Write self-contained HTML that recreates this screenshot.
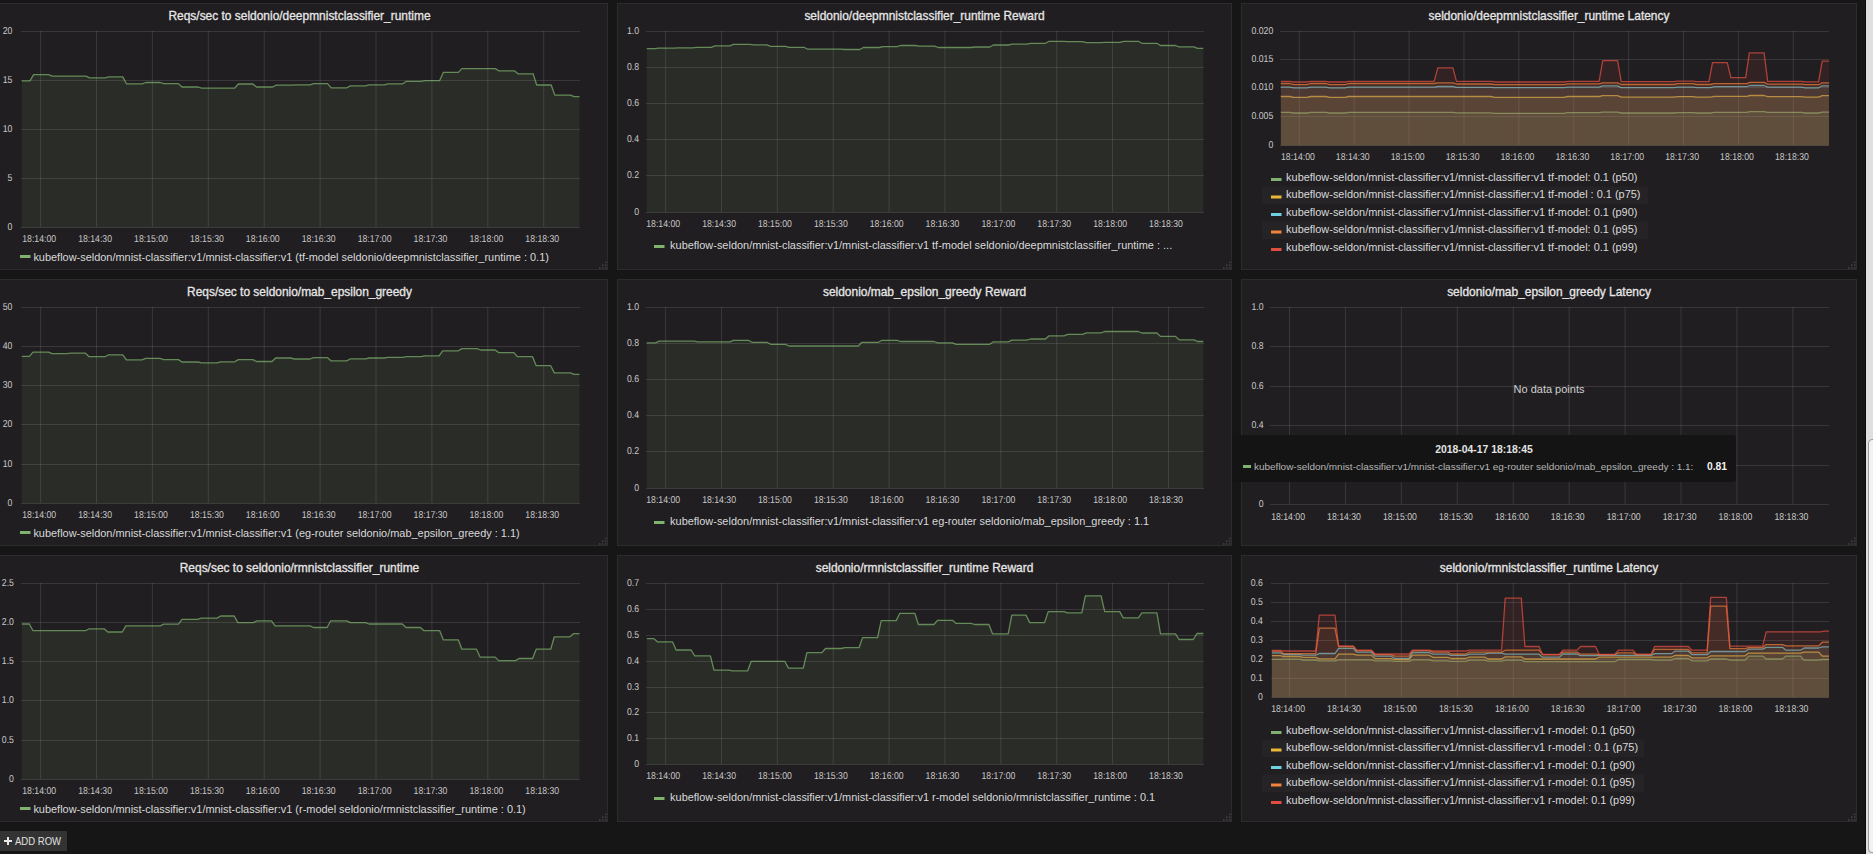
<!DOCTYPE html>
<html><head><meta charset="utf-8"><style>
html,body{margin:0;padding:0;}
body{width:1873px;height:854px;background:#161616;overflow:hidden;position:relative;font-family:"Liberation Sans", sans-serif;}
.pn{position:absolute;box-sizing:border-box;background:#201e20;border:1px solid #2c2c2c;}
.tt{position:absolute;text-align:center;font-size:11.95px;font-weight:normal;color:#e6e6e6;-webkit-text-stroke:0.3px #e6e6e6;line-height:14px;white-space:nowrap;}
.lg{position:absolute;font-size:10.95px;color:#d8d9da;line-height:12px;white-space:nowrap;}
svg{position:absolute;left:0;top:0;text-rendering:geometricPrecision;}
.ax{font-family:"Liberation Sans", sans-serif;font-size:10px;fill:#c9c9ca;}
.tip{position:absolute;left:1232px;top:435px;width:504px;height:47px;background:#141414;border-radius:3px;color:#d8d9da;white-space:nowrap;}
.tip .tm{position:absolute;left:0;width:504px;top:8px;text-align:center;font-weight:bold;font-size:10.4px;line-height:14px;color:#e4e4e4;}
.tip .sn{position:absolute;left:22px;top:25.8px;font-size:9.98px;line-height:12px;color:#b4b4b4;}
.tip .sw{position:absolute;left:11px;top:29.6px;width:8px;height:3px;background:#7EB26D;}
.tip .vl{position:absolute;left:475px;top:26.4px;font-weight:bold;font-size:10.3px;line-height:12px;color:#f0f0f0;}
.nd{position:absolute;left:1449px;top:383px;width:200px;text-align:center;font-size:11px;line-height:12px;color:#d0d0d0;}
.addrow{position:absolute;left:-5px;top:831px;width:72px;height:20px;background:#333333;color:#e0e0e0;font-size:10.4px;line-height:20px;}
.sb{position:absolute;left:1865px;top:0;width:8px;height:854px;background:#dfdfdf;border-left:1px solid #0b0b0b;box-sizing:border-box;}
.th{position:absolute;left:1868px;top:439px;width:12px;height:414px;background:#f2f2f2;border:1px solid #9a9a9a;border-radius:4px;box-sizing:border-box;}
</style></head><body>
<div class="pn" style="left:-9px;top:3px;width:617px;height:267px"></div><div class="tt" style="left:-9px;top:9px;width:617px">Reqs/sec to seldonio/deepmnistclassifier_runtime</div><div class="pn" style="left:617px;top:3px;width:615px;height:267px"></div><div class="tt" style="left:617px;top:9px;width:615px">seldonio/deepmnistclassifier_runtime Reward</div><div class="pn" style="left:1241px;top:3px;width:616px;height:267px"></div><div class="tt" style="left:1241px;top:9px;width:616px">seldonio/deepmnistclassifier_runtime Latency</div><div class="pn" style="left:-9px;top:279px;width:617px;height:267px"></div><div class="tt" style="left:-9px;top:285px;width:617px">Reqs/sec to seldonio/mab_epsilon_greedy</div><div class="pn" style="left:617px;top:279px;width:615px;height:267px"></div><div class="tt" style="left:617px;top:285px;width:615px">seldonio/mab_epsilon_greedy Reward</div><div class="pn" style="left:1241px;top:279px;width:616px;height:267px"></div><div class="tt" style="left:1241px;top:285px;width:616px">seldonio/mab_epsilon_greedy Latency</div><div class="pn" style="left:-9px;top:555px;width:617px;height:267px"></div><div class="tt" style="left:-9px;top:561px;width:617px">Reqs/sec to seldonio/rmnistclassifier_runtime</div><div class="pn" style="left:617px;top:555px;width:615px;height:267px"></div><div class="tt" style="left:617px;top:561px;width:615px">seldonio/rmnistclassifier_runtime Reward</div><div class="pn" style="left:1241px;top:555px;width:616px;height:267px"></div><div class="tt" style="left:1241px;top:561px;width:616px">seldonio/rmnistclassifier_runtime Latency</div><div class="lg" style="left:33.4px;top:250.60px">kubeflow-seldon/mnist-classifier:v1/mnist-classifier:v1 (tf-model seldonio/deepmnistclassifier_runtime : 0.1)</div><div class="lg" style="left:670.1px;top:238.50px">kubeflow-seldon/mnist-classifier:v1/mnist-classifier:v1 tf-model seldonio/deepmnistclassifier_runtime : ...</div><div class="lg" style="left:33.4px;top:526.60px">kubeflow-seldon/mnist-classifier:v1/mnist-classifier:v1 (eg-router seldonio/mab_epsilon_greedy : 1.1)</div><div class="lg" style="left:670.1px;top:514.50px">kubeflow-seldon/mnist-classifier:v1/mnist-classifier:v1 eg-router seldonio/mab_epsilon_greedy : 1.1</div><div class="lg" style="left:33.4px;top:802.60px">kubeflow-seldon/mnist-classifier:v1/mnist-classifier:v1 (r-model seldonio/rmnistclassifier_runtime : 0.1)</div><div class="lg" style="left:670.1px;top:790.50px">kubeflow-seldon/mnist-classifier:v1/mnist-classifier:v1 r-model seldonio/rmnistclassifier_runtime : 0.1</div><div class="lg" style="left:1286.1px;top:170.70px">kubeflow-seldon/mnist-classifier:v1/mnist-classifier:v1 tf-model: 0.1 (p50)</div><div class="lg" style="left:1286.1px;top:188.20px">kubeflow-seldon/mnist-classifier:v1/mnist-classifier:v1 tf-model : 0.1 (p75)</div><div class="lg" style="left:1286.1px;top:205.70px">kubeflow-seldon/mnist-classifier:v1/mnist-classifier:v1 tf-model: 0.1 (p90)</div><div class="lg" style="left:1286.1px;top:223.20px">kubeflow-seldon/mnist-classifier:v1/mnist-classifier:v1 tf-model: 0.1 (p95)</div><div class="lg" style="left:1286.1px;top:240.70px">kubeflow-seldon/mnist-classifier:v1/mnist-classifier:v1 tf-model: 0.1 (p99)</div><div class="lg" style="left:1286.1px;top:723.70px">kubeflow-seldon/mnist-classifier:v1/mnist-classifier:v1 r-model: 0.1 (p50)</div><div class="lg" style="left:1286.1px;top:741.20px">kubeflow-seldon/mnist-classifier:v1/mnist-classifier:v1 r-model : 0.1 (p75)</div><div class="lg" style="left:1286.1px;top:758.70px">kubeflow-seldon/mnist-classifier:v1/mnist-classifier:v1 r-model: 0.1 (p90)</div><div class="lg" style="left:1286.1px;top:776.20px">kubeflow-seldon/mnist-classifier:v1/mnist-classifier:v1 r-model: 0.1 (p95)</div><div class="lg" style="left:1286.1px;top:793.70px">kubeflow-seldon/mnist-classifier:v1/mnist-classifier:v1 r-model: 0.1 (p99)</div>
<svg width="1873" height="854" viewBox="0 0 1873 854">
<rect x="605.0" y="267.2" width="1.5" height="1.5" fill="#454545"/><rect x="602.0" y="267.2" width="1.5" height="1.5" fill="#454545"/><rect x="599.0" y="267.2" width="1.5" height="1.5" fill="#454545"/><rect x="605.0" y="264.4" width="1.5" height="1.5" fill="#454545"/><rect x="602.0" y="264.4" width="1.5" height="1.5" fill="#454545"/><rect x="605.0" y="261.6" width="1.5" height="1.5" fill="#454545"/><rect x="1229.0" y="267.2" width="1.5" height="1.5" fill="#454545"/><rect x="1226.0" y="267.2" width="1.5" height="1.5" fill="#454545"/><rect x="1223.0" y="267.2" width="1.5" height="1.5" fill="#454545"/><rect x="1229.0" y="264.4" width="1.5" height="1.5" fill="#454545"/><rect x="1226.0" y="264.4" width="1.5" height="1.5" fill="#454545"/><rect x="1229.0" y="261.6" width="1.5" height="1.5" fill="#454545"/><rect x="1854.0" y="267.2" width="1.5" height="1.5" fill="#454545"/><rect x="1851.0" y="267.2" width="1.5" height="1.5" fill="#454545"/><rect x="1848.0" y="267.2" width="1.5" height="1.5" fill="#454545"/><rect x="1854.0" y="264.4" width="1.5" height="1.5" fill="#454545"/><rect x="1851.0" y="264.4" width="1.5" height="1.5" fill="#454545"/><rect x="1854.0" y="261.6" width="1.5" height="1.5" fill="#454545"/><rect x="605.0" y="543.2" width="1.5" height="1.5" fill="#454545"/><rect x="602.0" y="543.2" width="1.5" height="1.5" fill="#454545"/><rect x="599.0" y="543.2" width="1.5" height="1.5" fill="#454545"/><rect x="605.0" y="540.4" width="1.5" height="1.5" fill="#454545"/><rect x="602.0" y="540.4" width="1.5" height="1.5" fill="#454545"/><rect x="605.0" y="537.6" width="1.5" height="1.5" fill="#454545"/><rect x="1229.0" y="543.2" width="1.5" height="1.5" fill="#454545"/><rect x="1226.0" y="543.2" width="1.5" height="1.5" fill="#454545"/><rect x="1223.0" y="543.2" width="1.5" height="1.5" fill="#454545"/><rect x="1229.0" y="540.4" width="1.5" height="1.5" fill="#454545"/><rect x="1226.0" y="540.4" width="1.5" height="1.5" fill="#454545"/><rect x="1229.0" y="537.6" width="1.5" height="1.5" fill="#454545"/><rect x="1854.0" y="543.2" width="1.5" height="1.5" fill="#454545"/><rect x="1851.0" y="543.2" width="1.5" height="1.5" fill="#454545"/><rect x="1848.0" y="543.2" width="1.5" height="1.5" fill="#454545"/><rect x="1854.0" y="540.4" width="1.5" height="1.5" fill="#454545"/><rect x="1851.0" y="540.4" width="1.5" height="1.5" fill="#454545"/><rect x="1854.0" y="537.6" width="1.5" height="1.5" fill="#454545"/><rect x="605.0" y="819.2" width="1.5" height="1.5" fill="#454545"/><rect x="602.0" y="819.2" width="1.5" height="1.5" fill="#454545"/><rect x="599.0" y="819.2" width="1.5" height="1.5" fill="#454545"/><rect x="605.0" y="816.4" width="1.5" height="1.5" fill="#454545"/><rect x="602.0" y="816.4" width="1.5" height="1.5" fill="#454545"/><rect x="605.0" y="813.6" width="1.5" height="1.5" fill="#454545"/><rect x="1229.0" y="819.2" width="1.5" height="1.5" fill="#454545"/><rect x="1226.0" y="819.2" width="1.5" height="1.5" fill="#454545"/><rect x="1223.0" y="819.2" width="1.5" height="1.5" fill="#454545"/><rect x="1229.0" y="816.4" width="1.5" height="1.5" fill="#454545"/><rect x="1226.0" y="816.4" width="1.5" height="1.5" fill="#454545"/><rect x="1229.0" y="813.6" width="1.5" height="1.5" fill="#454545"/><rect x="1854.0" y="819.2" width="1.5" height="1.5" fill="#454545"/><rect x="1851.0" y="819.2" width="1.5" height="1.5" fill="#454545"/><rect x="1848.0" y="819.2" width="1.5" height="1.5" fill="#454545"/><rect x="1854.0" y="816.4" width="1.5" height="1.5" fill="#454545"/><rect x="1851.0" y="816.4" width="1.5" height="1.5" fill="#454545"/><rect x="1854.0" y="813.6" width="1.5" height="1.5" fill="#454545"/><rect x="21" y="31" width="559" height="1" fill="#c8c8c8" fill-opacity="0.15"/><rect x="21" y="80" width="559" height="1" fill="#c8c8c8" fill-opacity="0.15"/><rect x="21" y="129" width="559" height="1" fill="#c8c8c8" fill-opacity="0.15"/><rect x="21" y="178" width="559" height="1" fill="#c8c8c8" fill-opacity="0.15"/><rect x="21" y="227" width="559" height="1" fill="#c8c8c8" fill-opacity="0.15"/><rect x="40.10" y="31" width="1" height="196" fill="#c8c8c8" fill-opacity="0.15"/><rect x="96.00" y="31" width="1" height="196" fill="#c8c8c8" fill-opacity="0.15"/><rect x="151.90" y="31" width="1" height="196" fill="#c8c8c8" fill-opacity="0.15"/><rect x="207.80" y="31" width="1" height="196" fill="#c8c8c8" fill-opacity="0.15"/><rect x="263.70" y="31" width="1" height="196" fill="#c8c8c8" fill-opacity="0.15"/><rect x="319.60" y="31" width="1" height="196" fill="#c8c8c8" fill-opacity="0.15"/><rect x="375.50" y="31" width="1" height="196" fill="#c8c8c8" fill-opacity="0.15"/><rect x="431.40" y="31" width="1" height="196" fill="#c8c8c8" fill-opacity="0.15"/><rect x="487.30" y="31" width="1" height="196" fill="#c8c8c8" fill-opacity="0.15"/><rect x="543.20" y="31" width="1" height="196" fill="#c8c8c8" fill-opacity="0.15"/><path d="M21.80,80.90 L30.00,80.90 L33.60,74.70 L48.60,74.70 L52.20,76.10 L86.00,76.10 L89.60,77.90 L105.20,77.90 L108.80,76.90 L122.80,76.90 L126.40,83.80 L142.10,83.80 L145.70,82.50 L160.20,82.50 L163.80,83.60 L178.40,83.60 L182.00,87.00 L198.10,87.00 L201.70,88.10 L234.70,88.10 L238.30,84.00 L252.90,84.00 L256.50,87.00 L272.60,87.00 L276.20,85.10 L291.80,85.10 L295.40,84.80 L310.00,84.80 L313.60,83.60 L327.60,83.60 L331.20,87.80 L346.80,87.80 L350.40,85.90 L365.50,85.90 L369.10,84.90 L384.20,84.90 L387.80,83.80 L402.80,83.80 L406.40,81.30 L421.00,81.30 L424.60,80.60 L439.70,80.60 L443.30,72.40 L458.30,72.40 L461.90,68.60 L495.20,68.60 L498.80,70.80 L514.40,70.80 L518.00,73.80 L533.10,73.80 L536.70,85.00 L551.20,85.00 L554.80,95.10 L570.50,95.10 L574.10,96.70 L579.50,96.70 L579.50,227.50 L21.80,227.50 Z" fill="#7EB26D" fill-opacity="0.1"/><path d="M21.80,80.90 L30.00,80.90 L33.60,74.70 L48.60,74.70 L52.20,76.10 L86.00,76.10 L89.60,77.90 L105.20,77.90 L108.80,76.90 L122.80,76.90 L126.40,83.80 L142.10,83.80 L145.70,82.50 L160.20,82.50 L163.80,83.60 L178.40,83.60 L182.00,87.00 L198.10,87.00 L201.70,88.10 L234.70,88.10 L238.30,84.00 L252.90,84.00 L256.50,87.00 L272.60,87.00 L276.20,85.10 L291.80,85.10 L295.40,84.80 L310.00,84.80 L313.60,83.60 L327.60,83.60 L331.20,87.80 L346.80,87.80 L350.40,85.90 L365.50,85.90 L369.10,84.90 L384.20,84.90 L387.80,83.80 L402.80,83.80 L406.40,81.30 L421.00,81.30 L424.60,80.60 L439.70,80.60 L443.30,72.40 L458.30,72.40 L461.90,68.60 L495.20,68.60 L498.80,70.80 L514.40,70.80 L518.00,73.80 L533.10,73.80 L536.70,85.00 L551.20,85.00 L554.80,95.10 L570.50,95.10 L574.10,96.70 L579.50,96.70" fill="none" stroke="#7EB26D" stroke-width="1.3" stroke-opacity="0.72" stroke-linejoin="round"/><text x="12.30" y="34.20" text-anchor="end" textLength="9.67" lengthAdjust="spacingAndGlyphs" class="ax">20</text><text x="12.30" y="83.20" text-anchor="end" textLength="9.67" lengthAdjust="spacingAndGlyphs" class="ax">15</text><text x="12.30" y="132.20" text-anchor="end" textLength="9.67" lengthAdjust="spacingAndGlyphs" class="ax">10</text><text x="12.30" y="181.20" text-anchor="end" textLength="4.84" lengthAdjust="spacingAndGlyphs" class="ax">5</text><text x="12.30" y="230.20" text-anchor="end" textLength="4.84" lengthAdjust="spacingAndGlyphs" class="ax">0</text><text x="39.20" y="242.00" text-anchor="middle" textLength="33.86" lengthAdjust="spacingAndGlyphs" class="ax">18:14:00</text><text x="95.10" y="242.00" text-anchor="middle" textLength="33.86" lengthAdjust="spacingAndGlyphs" class="ax">18:14:30</text><text x="151.00" y="242.00" text-anchor="middle" textLength="33.86" lengthAdjust="spacingAndGlyphs" class="ax">18:15:00</text><text x="206.90" y="242.00" text-anchor="middle" textLength="33.86" lengthAdjust="spacingAndGlyphs" class="ax">18:15:30</text><text x="262.80" y="242.00" text-anchor="middle" textLength="33.86" lengthAdjust="spacingAndGlyphs" class="ax">18:16:00</text><text x="318.70" y="242.00" text-anchor="middle" textLength="33.86" lengthAdjust="spacingAndGlyphs" class="ax">18:16:30</text><text x="374.60" y="242.00" text-anchor="middle" textLength="33.86" lengthAdjust="spacingAndGlyphs" class="ax">18:17:00</text><text x="430.50" y="242.00" text-anchor="middle" textLength="33.86" lengthAdjust="spacingAndGlyphs" class="ax">18:17:30</text><text x="486.40" y="242.00" text-anchor="middle" textLength="33.86" lengthAdjust="spacingAndGlyphs" class="ax">18:18:00</text><text x="542.30" y="242.00" text-anchor="middle" textLength="33.86" lengthAdjust="spacingAndGlyphs" class="ax">18:18:30</text><rect x="646" y="31" width="558" height="1" fill="#c8c8c8" fill-opacity="0.15"/><rect x="646" y="67" width="558" height="1" fill="#c8c8c8" fill-opacity="0.15"/><rect x="646" y="103" width="558" height="1" fill="#c8c8c8" fill-opacity="0.15"/><rect x="646" y="139" width="558" height="1" fill="#c8c8c8" fill-opacity="0.15"/><rect x="646" y="175" width="558" height="1" fill="#c8c8c8" fill-opacity="0.15"/><rect x="646" y="212" width="558" height="1" fill="#c8c8c8" fill-opacity="0.15"/><rect x="665.10" y="31" width="1" height="181" fill="#c8c8c8" fill-opacity="0.15"/><rect x="720.97" y="31" width="1" height="181" fill="#c8c8c8" fill-opacity="0.15"/><rect x="776.84" y="31" width="1" height="181" fill="#c8c8c8" fill-opacity="0.15"/><rect x="832.71" y="31" width="1" height="181" fill="#c8c8c8" fill-opacity="0.15"/><rect x="888.58" y="31" width="1" height="181" fill="#c8c8c8" fill-opacity="0.15"/><rect x="944.45" y="31" width="1" height="181" fill="#c8c8c8" fill-opacity="0.15"/><rect x="1000.32" y="31" width="1" height="181" fill="#c8c8c8" fill-opacity="0.15"/><rect x="1056.19" y="31" width="1" height="181" fill="#c8c8c8" fill-opacity="0.15"/><rect x="1112.06" y="31" width="1" height="181" fill="#c8c8c8" fill-opacity="0.15"/><rect x="1167.93" y="31" width="1" height="181" fill="#c8c8c8" fill-opacity="0.15"/><path d="M646.80,48.60 L655.00,48.60 L658.60,48.20 L674.00,48.20 L677.60,47.80 L692.60,47.80 L696.20,47.30 L711.20,47.30 L714.80,45.80 L729.80,45.80 L733.40,44.40 L750.00,44.40 L753.60,44.90 L767.00,44.90 L770.60,46.30 L785.50,46.30 L789.10,47.30 L804.10,47.30 L807.70,49.20 L841.00,49.20 L844.60,49.50 L859.80,49.50 L863.40,47.50 L879.20,47.50 L882.80,46.70 L897.00,46.70 L900.60,45.50 L915.60,45.50 L919.20,46.10 L934.70,46.10 L938.30,47.50 L971.00,47.50 L974.60,47.00 L989.70,47.00 L993.30,45.00 L1008.20,45.00 L1011.80,44.20 L1026.80,44.20 L1030.40,43.30 L1045.40,43.30 L1049.00,41.30 L1064.00,41.30 L1067.60,41.60 L1082.60,41.60 L1086.20,42.70 L1101.00,42.70 L1104.60,42.30 L1120.00,42.30 L1123.60,41.30 L1138.30,41.30 L1141.90,43.30 L1156.90,43.30 L1160.50,45.50 L1175.50,45.50 L1179.10,46.90 L1194.00,46.90 L1197.60,48.40 L1203.30,48.40 L1203.30,212.50 L646.80,212.50 Z" fill="#7EB26D" fill-opacity="0.1"/><path d="M646.80,48.60 L655.00,48.60 L658.60,48.20 L674.00,48.20 L677.60,47.80 L692.60,47.80 L696.20,47.30 L711.20,47.30 L714.80,45.80 L729.80,45.80 L733.40,44.40 L750.00,44.40 L753.60,44.90 L767.00,44.90 L770.60,46.30 L785.50,46.30 L789.10,47.30 L804.10,47.30 L807.70,49.20 L841.00,49.20 L844.60,49.50 L859.80,49.50 L863.40,47.50 L879.20,47.50 L882.80,46.70 L897.00,46.70 L900.60,45.50 L915.60,45.50 L919.20,46.10 L934.70,46.10 L938.30,47.50 L971.00,47.50 L974.60,47.00 L989.70,47.00 L993.30,45.00 L1008.20,45.00 L1011.80,44.20 L1026.80,44.20 L1030.40,43.30 L1045.40,43.30 L1049.00,41.30 L1064.00,41.30 L1067.60,41.60 L1082.60,41.60 L1086.20,42.70 L1101.00,42.70 L1104.60,42.30 L1120.00,42.30 L1123.60,41.30 L1138.30,41.30 L1141.90,43.30 L1156.90,43.30 L1160.50,45.50 L1175.50,45.50 L1179.10,46.90 L1194.00,46.90 L1197.60,48.40 L1203.30,48.40" fill="none" stroke="#7EB26D" stroke-width="1.3" stroke-opacity="0.72" stroke-linejoin="round"/><text x="639.00" y="34.20" text-anchor="end" textLength="12.09" lengthAdjust="spacingAndGlyphs" class="ax">1.0</text><text x="639.00" y="70.20" text-anchor="end" textLength="12.09" lengthAdjust="spacingAndGlyphs" class="ax">0.8</text><text x="639.00" y="106.20" text-anchor="end" textLength="12.09" lengthAdjust="spacingAndGlyphs" class="ax">0.6</text><text x="639.00" y="142.20" text-anchor="end" textLength="12.09" lengthAdjust="spacingAndGlyphs" class="ax">0.4</text><text x="639.00" y="178.20" text-anchor="end" textLength="12.09" lengthAdjust="spacingAndGlyphs" class="ax">0.2</text><text x="639.00" y="215.20" text-anchor="end" textLength="4.84" lengthAdjust="spacingAndGlyphs" class="ax">0</text><text x="663.20" y="227.00" text-anchor="middle" textLength="33.86" lengthAdjust="spacingAndGlyphs" class="ax">18:14:00</text><text x="719.07" y="227.00" text-anchor="middle" textLength="33.86" lengthAdjust="spacingAndGlyphs" class="ax">18:14:30</text><text x="774.94" y="227.00" text-anchor="middle" textLength="33.86" lengthAdjust="spacingAndGlyphs" class="ax">18:15:00</text><text x="830.81" y="227.00" text-anchor="middle" textLength="33.86" lengthAdjust="spacingAndGlyphs" class="ax">18:15:30</text><text x="886.68" y="227.00" text-anchor="middle" textLength="33.86" lengthAdjust="spacingAndGlyphs" class="ax">18:16:00</text><text x="942.55" y="227.00" text-anchor="middle" textLength="33.86" lengthAdjust="spacingAndGlyphs" class="ax">18:16:30</text><text x="998.42" y="227.00" text-anchor="middle" textLength="33.86" lengthAdjust="spacingAndGlyphs" class="ax">18:17:00</text><text x="1054.29" y="227.00" text-anchor="middle" textLength="33.86" lengthAdjust="spacingAndGlyphs" class="ax">18:17:30</text><text x="1110.16" y="227.00" text-anchor="middle" textLength="33.86" lengthAdjust="spacingAndGlyphs" class="ax">18:18:00</text><text x="1166.03" y="227.00" text-anchor="middle" textLength="33.86" lengthAdjust="spacingAndGlyphs" class="ax">18:18:30</text><rect x="1280" y="31" width="549" height="1" fill="#c8c8c8" fill-opacity="0.15"/><rect x="1280" y="59" width="549" height="1" fill="#c8c8c8" fill-opacity="0.15"/><rect x="1280" y="87" width="549" height="1" fill="#c8c8c8" fill-opacity="0.15"/><rect x="1280" y="116" width="549" height="1" fill="#c8c8c8" fill-opacity="0.15"/><rect x="1280" y="145" width="549" height="1" fill="#c8c8c8" fill-opacity="0.15"/><rect x="1298.80" y="31" width="1" height="114" fill="#c8c8c8" fill-opacity="0.15"/><rect x="1353.69" y="31" width="1" height="114" fill="#c8c8c8" fill-opacity="0.15"/><rect x="1408.58" y="31" width="1" height="114" fill="#c8c8c8" fill-opacity="0.15"/><rect x="1463.47" y="31" width="1" height="114" fill="#c8c8c8" fill-opacity="0.15"/><rect x="1518.36" y="31" width="1" height="114" fill="#c8c8c8" fill-opacity="0.15"/><rect x="1573.25" y="31" width="1" height="114" fill="#c8c8c8" fill-opacity="0.15"/><rect x="1628.14" y="31" width="1" height="114" fill="#c8c8c8" fill-opacity="0.15"/><rect x="1683.03" y="31" width="1" height="114" fill="#c8c8c8" fill-opacity="0.15"/><rect x="1737.92" y="31" width="1" height="114" fill="#c8c8c8" fill-opacity="0.15"/><rect x="1792.81" y="31" width="1" height="114" fill="#c8c8c8" fill-opacity="0.15"/><path d="M1280.80,112.40 L1290.00,112.40 L1293.60,113.00 L1307.00,113.00 L1310.60,112.40 L1326.00,112.40 L1329.60,113.00 L1345.00,113.00 L1348.60,112.40 L1452.90,112.40 L1456.50,112.90 L1491.00,112.90 L1494.60,113.30 L1564.00,113.30 L1567.60,112.60 L1599.10,112.60 L1602.70,112.20 L1617.60,112.20 L1621.20,113.00 L1673.70,113.00 L1677.30,112.60 L1693.00,112.60 L1696.60,113.00 L1710.60,113.00 L1714.20,112.40 L1746.60,112.40 L1750.20,111.70 L1764.10,111.70 L1767.70,112.40 L1801.50,112.40 L1805.10,113.00 L1818.60,113.00 L1822.20,112.20 L1829.00,112.20 L1829.00,145.50 L1280.80,145.50 Z" fill="#7EB26D" fill-opacity="0.1"/><path d="M1280.80,112.40 L1290.00,112.40 L1293.60,113.00 L1307.00,113.00 L1310.60,112.40 L1326.00,112.40 L1329.60,113.00 L1345.00,113.00 L1348.60,112.40 L1452.90,112.40 L1456.50,112.90 L1491.00,112.90 L1494.60,113.30 L1564.00,113.30 L1567.60,112.60 L1599.10,112.60 L1602.70,112.20 L1617.60,112.20 L1621.20,113.00 L1673.70,113.00 L1677.30,112.60 L1693.00,112.60 L1696.60,113.00 L1710.60,113.00 L1714.20,112.40 L1746.60,112.40 L1750.20,111.70 L1764.10,111.70 L1767.70,112.40 L1801.50,112.40 L1805.10,113.00 L1818.60,113.00 L1822.20,112.20 L1829.00,112.20" fill="none" stroke="#7EB26D" stroke-width="1.3" stroke-opacity="0.72" stroke-linejoin="round"/><path d="M1280.80,96.50 L1290.00,96.50 L1293.60,97.40 L1307.00,97.40 L1310.60,96.50 L1326.00,96.50 L1329.60,97.40 L1345.00,97.40 L1348.60,96.50 L1491.00,96.50 L1494.60,97.40 L1564.00,97.40 L1567.60,96.50 L1599.10,96.50 L1602.70,95.70 L1617.60,95.70 L1621.20,97.20 L1673.70,97.20 L1677.30,96.60 L1693.00,96.60 L1696.60,97.20 L1710.60,97.20 L1714.20,96.40 L1746.60,96.40 L1750.20,95.50 L1764.10,95.50 L1767.70,96.60 L1801.50,96.60 L1805.10,97.20 L1818.60,97.20 L1822.20,95.70 L1829.00,95.70 L1829.00,145.50 L1280.80,145.50 Z" fill="#EAB839" fill-opacity="0.1"/><path d="M1280.80,96.50 L1290.00,96.50 L1293.60,97.40 L1307.00,97.40 L1310.60,96.50 L1326.00,96.50 L1329.60,97.40 L1345.00,97.40 L1348.60,96.50 L1491.00,96.50 L1494.60,97.40 L1564.00,97.40 L1567.60,96.50 L1599.10,96.50 L1602.70,95.70 L1617.60,95.70 L1621.20,97.20 L1673.70,97.20 L1677.30,96.60 L1693.00,96.60 L1696.60,97.20 L1710.60,97.20 L1714.20,96.40 L1746.60,96.40 L1750.20,95.50 L1764.10,95.50 L1767.70,96.60 L1801.50,96.60 L1805.10,97.20 L1818.60,97.20 L1822.20,95.70 L1829.00,95.70" fill="none" stroke="#EAB839" stroke-width="1.3" stroke-opacity="0.72" stroke-linejoin="round"/><path d="M1280.80,87.20 L1290.00,87.20 L1293.60,87.80 L1307.00,87.80 L1310.60,87.20 L1326.00,87.20 L1329.60,87.80 L1345.00,87.80 L1348.60,87.20 L1434.20,87.20 L1437.80,86.50 L1452.90,86.50 L1456.50,87.40 L1491.00,87.40 L1494.60,87.60 L1564.00,87.60 L1567.60,87.20 L1599.10,87.20 L1602.70,85.80 L1617.60,85.80 L1621.20,87.60 L1673.70,87.60 L1677.30,87.10 L1693.00,87.10 L1696.60,87.60 L1710.60,87.60 L1714.20,86.70 L1746.60,86.70 L1750.20,85.50 L1764.10,85.50 L1767.70,87.10 L1801.50,87.10 L1805.10,87.80 L1818.60,87.80 L1822.20,85.80 L1829.00,85.80 L1829.00,145.50 L1280.80,145.50 Z" fill="#6ED0E0" fill-opacity="0.1"/><path d="M1280.80,87.20 L1290.00,87.20 L1293.60,87.80 L1307.00,87.80 L1310.60,87.20 L1326.00,87.20 L1329.60,87.80 L1345.00,87.80 L1348.60,87.20 L1434.20,87.20 L1437.80,86.50 L1452.90,86.50 L1456.50,87.40 L1491.00,87.40 L1494.60,87.60 L1564.00,87.60 L1567.60,87.20 L1599.10,87.20 L1602.70,85.80 L1617.60,85.80 L1621.20,87.60 L1673.70,87.60 L1677.30,87.10 L1693.00,87.10 L1696.60,87.60 L1710.60,87.60 L1714.20,86.70 L1746.60,86.70 L1750.20,85.50 L1764.10,85.50 L1767.70,87.10 L1801.50,87.10 L1805.10,87.80 L1818.60,87.80 L1822.20,85.80 L1829.00,85.80" fill="none" stroke="#6ED0E0" stroke-width="1.3" stroke-opacity="0.72" stroke-linejoin="round"/><path d="M1280.80,83.50 L1290.00,83.50 L1293.60,84.60 L1307.00,84.60 L1310.60,83.50 L1326.00,83.50 L1329.60,84.60 L1345.00,84.60 L1348.60,83.50 L1434.20,83.50 L1437.80,82.80 L1452.90,82.80 L1456.50,84.00 L1491.00,84.00 L1494.60,84.60 L1564.00,84.60 L1567.60,83.80 L1599.10,83.80 L1602.70,82.80 L1617.60,82.80 L1621.20,84.50 L1673.70,84.50 L1677.30,83.60 L1693.00,83.60 L1696.60,84.50 L1710.60,84.50 L1714.20,83.60 L1746.60,83.60 L1750.20,82.40 L1764.10,82.40 L1767.70,84.10 L1801.50,84.10 L1805.10,84.70 L1818.60,84.70 L1822.20,82.80 L1829.00,82.80 L1829.00,145.50 L1280.80,145.50 Z" fill="#EF843C" fill-opacity="0.1"/><path d="M1280.80,83.50 L1290.00,83.50 L1293.60,84.60 L1307.00,84.60 L1310.60,83.50 L1326.00,83.50 L1329.60,84.60 L1345.00,84.60 L1348.60,83.50 L1434.20,83.50 L1437.80,82.80 L1452.90,82.80 L1456.50,84.00 L1491.00,84.00 L1494.60,84.60 L1564.00,84.60 L1567.60,83.80 L1599.10,83.80 L1602.70,82.80 L1617.60,82.80 L1621.20,84.50 L1673.70,84.50 L1677.30,83.60 L1693.00,83.60 L1696.60,84.50 L1710.60,84.50 L1714.20,83.60 L1746.60,83.60 L1750.20,82.40 L1764.10,82.40 L1767.70,84.10 L1801.50,84.10 L1805.10,84.70 L1818.60,84.70 L1822.20,82.80 L1829.00,82.80" fill="none" stroke="#EF843C" stroke-width="1.3" stroke-opacity="0.72" stroke-linejoin="round"/><path d="M1280.80,81.40 L1290.00,81.40 L1293.60,82.00 L1307.00,82.00 L1310.60,81.40 L1326.00,81.40 L1329.60,82.00 L1345.00,82.00 L1348.60,81.40 L1434.20,81.40 L1437.80,67.90 L1452.90,67.90 L1456.50,81.40 L1492.00,81.40 L1495.60,82.00 L1564.00,82.00 L1567.60,81.40 L1599.10,81.40 L1602.70,60.60 L1617.60,60.60 L1621.20,81.70 L1673.70,81.70 L1677.30,81.20 L1693.00,81.20 L1696.60,81.70 L1708.90,81.70 L1712.50,62.60 L1727.30,62.60 L1730.90,77.70 L1745.70,77.70 L1749.30,52.90 L1764.10,52.90 L1767.70,81.40 L1801.50,81.40 L1805.10,81.90 L1818.60,81.90 L1822.20,61.20 L1829.00,61.20 L1829.00,145.50 L1280.80,145.50 Z" fill="#E24D42" fill-opacity="0.1"/><path d="M1280.80,81.40 L1290.00,81.40 L1293.60,82.00 L1307.00,82.00 L1310.60,81.40 L1326.00,81.40 L1329.60,82.00 L1345.00,82.00 L1348.60,81.40 L1434.20,81.40 L1437.80,67.90 L1452.90,67.90 L1456.50,81.40 L1492.00,81.40 L1495.60,82.00 L1564.00,82.00 L1567.60,81.40 L1599.10,81.40 L1602.70,60.60 L1617.60,60.60 L1621.20,81.70 L1673.70,81.70 L1677.30,81.20 L1693.00,81.20 L1696.60,81.70 L1708.90,81.70 L1712.50,62.60 L1727.30,62.60 L1730.90,77.70 L1745.70,77.70 L1749.30,52.90 L1764.10,52.90 L1767.70,81.40 L1801.50,81.40 L1805.10,81.90 L1818.60,81.90 L1822.20,61.20 L1829.00,61.20" fill="none" stroke="#E24D42" stroke-width="1.3" stroke-opacity="0.72" stroke-linejoin="round"/><text x="1273.30" y="34.20" text-anchor="end" textLength="21.77" lengthAdjust="spacingAndGlyphs" class="ax">0.020</text><text x="1273.30" y="62.20" text-anchor="end" textLength="21.77" lengthAdjust="spacingAndGlyphs" class="ax">0.015</text><text x="1273.30" y="90.20" text-anchor="end" textLength="21.77" lengthAdjust="spacingAndGlyphs" class="ax">0.010</text><text x="1273.30" y="119.20" text-anchor="end" textLength="21.77" lengthAdjust="spacingAndGlyphs" class="ax">0.005</text><text x="1273.30" y="148.20" text-anchor="end" textLength="4.84" lengthAdjust="spacingAndGlyphs" class="ax">0</text><text x="1297.90" y="160.30" text-anchor="middle" textLength="33.86" lengthAdjust="spacingAndGlyphs" class="ax">18:14:00</text><text x="1352.79" y="160.30" text-anchor="middle" textLength="33.86" lengthAdjust="spacingAndGlyphs" class="ax">18:14:30</text><text x="1407.68" y="160.30" text-anchor="middle" textLength="33.86" lengthAdjust="spacingAndGlyphs" class="ax">18:15:00</text><text x="1462.57" y="160.30" text-anchor="middle" textLength="33.86" lengthAdjust="spacingAndGlyphs" class="ax">18:15:30</text><text x="1517.46" y="160.30" text-anchor="middle" textLength="33.86" lengthAdjust="spacingAndGlyphs" class="ax">18:16:00</text><text x="1572.35" y="160.30" text-anchor="middle" textLength="33.86" lengthAdjust="spacingAndGlyphs" class="ax">18:16:30</text><text x="1627.24" y="160.30" text-anchor="middle" textLength="33.86" lengthAdjust="spacingAndGlyphs" class="ax">18:17:00</text><text x="1682.13" y="160.30" text-anchor="middle" textLength="33.86" lengthAdjust="spacingAndGlyphs" class="ax">18:17:30</text><text x="1737.02" y="160.30" text-anchor="middle" textLength="33.86" lengthAdjust="spacingAndGlyphs" class="ax">18:18:00</text><text x="1791.91" y="160.30" text-anchor="middle" textLength="33.86" lengthAdjust="spacingAndGlyphs" class="ax">18:18:30</text><rect x="21" y="307" width="559" height="1" fill="#c8c8c8" fill-opacity="0.15"/><rect x="21" y="346" width="559" height="1" fill="#c8c8c8" fill-opacity="0.15"/><rect x="21" y="385" width="559" height="1" fill="#c8c8c8" fill-opacity="0.15"/><rect x="21" y="424" width="559" height="1" fill="#c8c8c8" fill-opacity="0.15"/><rect x="21" y="464" width="559" height="1" fill="#c8c8c8" fill-opacity="0.15"/><rect x="21" y="503" width="559" height="1" fill="#c8c8c8" fill-opacity="0.15"/><rect x="40.10" y="307" width="1" height="196" fill="#c8c8c8" fill-opacity="0.15"/><rect x="96.00" y="307" width="1" height="196" fill="#c8c8c8" fill-opacity="0.15"/><rect x="151.90" y="307" width="1" height="196" fill="#c8c8c8" fill-opacity="0.15"/><rect x="207.80" y="307" width="1" height="196" fill="#c8c8c8" fill-opacity="0.15"/><rect x="263.70" y="307" width="1" height="196" fill="#c8c8c8" fill-opacity="0.15"/><rect x="319.60" y="307" width="1" height="196" fill="#c8c8c8" fill-opacity="0.15"/><rect x="375.50" y="307" width="1" height="196" fill="#c8c8c8" fill-opacity="0.15"/><rect x="431.40" y="307" width="1" height="196" fill="#c8c8c8" fill-opacity="0.15"/><rect x="487.30" y="307" width="1" height="196" fill="#c8c8c8" fill-opacity="0.15"/><rect x="543.20" y="307" width="1" height="196" fill="#c8c8c8" fill-opacity="0.15"/><path d="M21.80,356.40 L29.40,356.40 L33.00,352.10 L48.60,352.10 L52.20,353.70 L67.00,353.70 L70.60,353.20 L85.50,353.20 L89.10,356.70 L105.00,356.70 L108.60,354.80 L122.80,354.80 L126.40,359.90 L142.00,359.90 L145.60,358.30 L160.00,358.30 L163.60,359.60 L178.40,359.60 L182.00,362.00 L198.00,362.00 L201.60,362.80 L217.00,362.80 L220.60,361.80 L234.70,361.80 L238.30,359.60 L252.90,359.60 L256.50,361.50 L272.00,361.50 L275.60,358.00 L290.80,358.00 L294.40,359.00 L310.00,359.00 L313.60,357.70 L327.60,357.70 L331.20,360.90 L346.80,360.90 L350.40,358.80 L365.50,358.80 L369.10,358.00 L384.20,358.00 L387.80,357.30 L402.80,357.30 L406.40,356.70 L421.00,356.70 L424.60,355.80 L439.10,355.80 L442.70,350.80 L458.30,350.80 L461.90,348.60 L477.00,348.60 L480.60,350.00 L495.20,350.00 L498.80,352.60 L513.90,352.60 L517.50,356.70 L532.60,356.70 L536.20,365.70 L550.70,365.70 L554.30,372.90 L570.50,372.90 L574.10,374.30 L579.50,374.30 L579.50,503.50 L21.80,503.50 Z" fill="#7EB26D" fill-opacity="0.1"/><path d="M21.80,356.40 L29.40,356.40 L33.00,352.10 L48.60,352.10 L52.20,353.70 L67.00,353.70 L70.60,353.20 L85.50,353.20 L89.10,356.70 L105.00,356.70 L108.60,354.80 L122.80,354.80 L126.40,359.90 L142.00,359.90 L145.60,358.30 L160.00,358.30 L163.60,359.60 L178.40,359.60 L182.00,362.00 L198.00,362.00 L201.60,362.80 L217.00,362.80 L220.60,361.80 L234.70,361.80 L238.30,359.60 L252.90,359.60 L256.50,361.50 L272.00,361.50 L275.60,358.00 L290.80,358.00 L294.40,359.00 L310.00,359.00 L313.60,357.70 L327.60,357.70 L331.20,360.90 L346.80,360.90 L350.40,358.80 L365.50,358.80 L369.10,358.00 L384.20,358.00 L387.80,357.30 L402.80,357.30 L406.40,356.70 L421.00,356.70 L424.60,355.80 L439.10,355.80 L442.70,350.80 L458.30,350.80 L461.90,348.60 L477.00,348.60 L480.60,350.00 L495.20,350.00 L498.80,352.60 L513.90,352.60 L517.50,356.70 L532.60,356.70 L536.20,365.70 L550.70,365.70 L554.30,372.90 L570.50,372.90 L574.10,374.30 L579.50,374.30" fill="none" stroke="#7EB26D" stroke-width="1.3" stroke-opacity="0.72" stroke-linejoin="round"/><text x="12.30" y="310.20" text-anchor="end" textLength="9.67" lengthAdjust="spacingAndGlyphs" class="ax">50</text><text x="12.30" y="349.20" text-anchor="end" textLength="9.67" lengthAdjust="spacingAndGlyphs" class="ax">40</text><text x="12.30" y="388.20" text-anchor="end" textLength="9.67" lengthAdjust="spacingAndGlyphs" class="ax">30</text><text x="12.30" y="427.20" text-anchor="end" textLength="9.67" lengthAdjust="spacingAndGlyphs" class="ax">20</text><text x="12.30" y="467.20" text-anchor="end" textLength="9.67" lengthAdjust="spacingAndGlyphs" class="ax">10</text><text x="12.30" y="506.20" text-anchor="end" textLength="4.84" lengthAdjust="spacingAndGlyphs" class="ax">0</text><text x="39.20" y="518.00" text-anchor="middle" textLength="33.86" lengthAdjust="spacingAndGlyphs" class="ax">18:14:00</text><text x="95.10" y="518.00" text-anchor="middle" textLength="33.86" lengthAdjust="spacingAndGlyphs" class="ax">18:14:30</text><text x="151.00" y="518.00" text-anchor="middle" textLength="33.86" lengthAdjust="spacingAndGlyphs" class="ax">18:15:00</text><text x="206.90" y="518.00" text-anchor="middle" textLength="33.86" lengthAdjust="spacingAndGlyphs" class="ax">18:15:30</text><text x="262.80" y="518.00" text-anchor="middle" textLength="33.86" lengthAdjust="spacingAndGlyphs" class="ax">18:16:00</text><text x="318.70" y="518.00" text-anchor="middle" textLength="33.86" lengthAdjust="spacingAndGlyphs" class="ax">18:16:30</text><text x="374.60" y="518.00" text-anchor="middle" textLength="33.86" lengthAdjust="spacingAndGlyphs" class="ax">18:17:00</text><text x="430.50" y="518.00" text-anchor="middle" textLength="33.86" lengthAdjust="spacingAndGlyphs" class="ax">18:17:30</text><text x="486.40" y="518.00" text-anchor="middle" textLength="33.86" lengthAdjust="spacingAndGlyphs" class="ax">18:18:00</text><text x="542.30" y="518.00" text-anchor="middle" textLength="33.86" lengthAdjust="spacingAndGlyphs" class="ax">18:18:30</text><rect x="646" y="307" width="558" height="1" fill="#c8c8c8" fill-opacity="0.15"/><rect x="646" y="343" width="558" height="1" fill="#c8c8c8" fill-opacity="0.15"/><rect x="646" y="379" width="558" height="1" fill="#c8c8c8" fill-opacity="0.15"/><rect x="646" y="415" width="558" height="1" fill="#c8c8c8" fill-opacity="0.15"/><rect x="646" y="451" width="558" height="1" fill="#c8c8c8" fill-opacity="0.15"/><rect x="646" y="488" width="558" height="1" fill="#c8c8c8" fill-opacity="0.15"/><rect x="665.10" y="307" width="1" height="181" fill="#c8c8c8" fill-opacity="0.15"/><rect x="720.97" y="307" width="1" height="181" fill="#c8c8c8" fill-opacity="0.15"/><rect x="776.84" y="307" width="1" height="181" fill="#c8c8c8" fill-opacity="0.15"/><rect x="832.71" y="307" width="1" height="181" fill="#c8c8c8" fill-opacity="0.15"/><rect x="888.58" y="307" width="1" height="181" fill="#c8c8c8" fill-opacity="0.15"/><rect x="944.45" y="307" width="1" height="181" fill="#c8c8c8" fill-opacity="0.15"/><rect x="1000.32" y="307" width="1" height="181" fill="#c8c8c8" fill-opacity="0.15"/><rect x="1056.19" y="307" width="1" height="181" fill="#c8c8c8" fill-opacity="0.15"/><rect x="1112.06" y="307" width="1" height="181" fill="#c8c8c8" fill-opacity="0.15"/><rect x="1167.93" y="307" width="1" height="181" fill="#c8c8c8" fill-opacity="0.15"/><path d="M646.80,342.90 L655.50,342.90 L659.10,341.20 L694.20,341.20 L697.80,341.80 L729.80,341.80 L733.40,340.30 L748.40,340.30 L752.00,342.30 L767.00,342.30 L770.60,344.30 L785.50,344.30 L789.10,346.00 L858.30,346.00 L861.90,342.30 L878.40,342.30 L882.00,340.30 L897.00,340.30 L900.60,341.50 L934.00,341.50 L937.60,342.80 L952.50,342.80 L956.10,344.30 L989.70,344.30 L993.30,341.80 L1008.20,341.80 L1011.80,340.10 L1026.80,340.10 L1030.40,339.00 L1045.40,339.00 L1049.00,335.80 L1064.00,335.80 L1067.60,334.40 L1082.60,334.40 L1086.20,332.90 L1101.10,332.90 L1104.70,331.50 L1138.30,331.50 L1141.90,333.00 L1156.90,333.00 L1160.50,336.40 L1175.50,336.40 L1179.10,339.80 L1194.00,339.80 L1197.60,341.50 L1203.30,341.50 L1203.30,488.50 L646.80,488.50 Z" fill="#7EB26D" fill-opacity="0.1"/><path d="M646.80,342.90 L655.50,342.90 L659.10,341.20 L694.20,341.20 L697.80,341.80 L729.80,341.80 L733.40,340.30 L748.40,340.30 L752.00,342.30 L767.00,342.30 L770.60,344.30 L785.50,344.30 L789.10,346.00 L858.30,346.00 L861.90,342.30 L878.40,342.30 L882.00,340.30 L897.00,340.30 L900.60,341.50 L934.00,341.50 L937.60,342.80 L952.50,342.80 L956.10,344.30 L989.70,344.30 L993.30,341.80 L1008.20,341.80 L1011.80,340.10 L1026.80,340.10 L1030.40,339.00 L1045.40,339.00 L1049.00,335.80 L1064.00,335.80 L1067.60,334.40 L1082.60,334.40 L1086.20,332.90 L1101.10,332.90 L1104.70,331.50 L1138.30,331.50 L1141.90,333.00 L1156.90,333.00 L1160.50,336.40 L1175.50,336.40 L1179.10,339.80 L1194.00,339.80 L1197.60,341.50 L1203.30,341.50" fill="none" stroke="#7EB26D" stroke-width="1.3" stroke-opacity="0.72" stroke-linejoin="round"/><text x="639.00" y="310.20" text-anchor="end" textLength="12.09" lengthAdjust="spacingAndGlyphs" class="ax">1.0</text><text x="639.00" y="346.20" text-anchor="end" textLength="12.09" lengthAdjust="spacingAndGlyphs" class="ax">0.8</text><text x="639.00" y="382.20" text-anchor="end" textLength="12.09" lengthAdjust="spacingAndGlyphs" class="ax">0.6</text><text x="639.00" y="418.20" text-anchor="end" textLength="12.09" lengthAdjust="spacingAndGlyphs" class="ax">0.4</text><text x="639.00" y="454.20" text-anchor="end" textLength="12.09" lengthAdjust="spacingAndGlyphs" class="ax">0.2</text><text x="639.00" y="491.20" text-anchor="end" textLength="4.84" lengthAdjust="spacingAndGlyphs" class="ax">0</text><text x="663.20" y="503.00" text-anchor="middle" textLength="33.86" lengthAdjust="spacingAndGlyphs" class="ax">18:14:00</text><text x="719.07" y="503.00" text-anchor="middle" textLength="33.86" lengthAdjust="spacingAndGlyphs" class="ax">18:14:30</text><text x="774.94" y="503.00" text-anchor="middle" textLength="33.86" lengthAdjust="spacingAndGlyphs" class="ax">18:15:00</text><text x="830.81" y="503.00" text-anchor="middle" textLength="33.86" lengthAdjust="spacingAndGlyphs" class="ax">18:15:30</text><text x="886.68" y="503.00" text-anchor="middle" textLength="33.86" lengthAdjust="spacingAndGlyphs" class="ax">18:16:00</text><text x="942.55" y="503.00" text-anchor="middle" textLength="33.86" lengthAdjust="spacingAndGlyphs" class="ax">18:16:30</text><text x="998.42" y="503.00" text-anchor="middle" textLength="33.86" lengthAdjust="spacingAndGlyphs" class="ax">18:17:00</text><text x="1054.29" y="503.00" text-anchor="middle" textLength="33.86" lengthAdjust="spacingAndGlyphs" class="ax">18:17:30</text><text x="1110.16" y="503.00" text-anchor="middle" textLength="33.86" lengthAdjust="spacingAndGlyphs" class="ax">18:18:00</text><text x="1166.03" y="503.00" text-anchor="middle" textLength="33.86" lengthAdjust="spacingAndGlyphs" class="ax">18:18:30</text><rect x="1270" y="307" width="559" height="1" fill="#c8c8c8" fill-opacity="0.15"/><rect x="1270" y="346" width="559" height="1" fill="#c8c8c8" fill-opacity="0.15"/><rect x="1270" y="386" width="559" height="1" fill="#c8c8c8" fill-opacity="0.15"/><rect x="1270" y="425" width="559" height="1" fill="#c8c8c8" fill-opacity="0.15"/><rect x="1270" y="465" width="559" height="1" fill="#c8c8c8" fill-opacity="0.15"/><rect x="1270" y="504" width="559" height="1" fill="#c8c8c8" fill-opacity="0.15"/><rect x="1289.00" y="307" width="1" height="197" fill="#c8c8c8" fill-opacity="0.15"/><rect x="1344.93" y="307" width="1" height="197" fill="#c8c8c8" fill-opacity="0.15"/><rect x="1400.86" y="307" width="1" height="197" fill="#c8c8c8" fill-opacity="0.15"/><rect x="1456.79" y="307" width="1" height="197" fill="#c8c8c8" fill-opacity="0.15"/><rect x="1512.72" y="307" width="1" height="197" fill="#c8c8c8" fill-opacity="0.15"/><rect x="1568.65" y="307" width="1" height="197" fill="#c8c8c8" fill-opacity="0.15"/><rect x="1624.58" y="307" width="1" height="197" fill="#c8c8c8" fill-opacity="0.15"/><rect x="1680.51" y="307" width="1" height="197" fill="#c8c8c8" fill-opacity="0.15"/><rect x="1736.44" y="307" width="1" height="197" fill="#c8c8c8" fill-opacity="0.15"/><rect x="1792.37" y="307" width="1" height="197" fill="#c8c8c8" fill-opacity="0.15"/><text x="1263.50" y="310.20" text-anchor="end" textLength="12.09" lengthAdjust="spacingAndGlyphs" class="ax">1.0</text><text x="1263.50" y="349.20" text-anchor="end" textLength="12.09" lengthAdjust="spacingAndGlyphs" class="ax">0.8</text><text x="1263.50" y="389.20" text-anchor="end" textLength="12.09" lengthAdjust="spacingAndGlyphs" class="ax">0.6</text><text x="1263.50" y="428.20" text-anchor="end" textLength="12.09" lengthAdjust="spacingAndGlyphs" class="ax">0.4</text><text x="1263.50" y="468.20" text-anchor="end" textLength="12.09" lengthAdjust="spacingAndGlyphs" class="ax">0.2</text><text x="1263.50" y="507.20" text-anchor="end" textLength="4.84" lengthAdjust="spacingAndGlyphs" class="ax">0</text><text x="1288.10" y="519.50" text-anchor="middle" textLength="33.86" lengthAdjust="spacingAndGlyphs" class="ax">18:14:00</text><text x="1344.03" y="519.50" text-anchor="middle" textLength="33.86" lengthAdjust="spacingAndGlyphs" class="ax">18:14:30</text><text x="1399.96" y="519.50" text-anchor="middle" textLength="33.86" lengthAdjust="spacingAndGlyphs" class="ax">18:15:00</text><text x="1455.89" y="519.50" text-anchor="middle" textLength="33.86" lengthAdjust="spacingAndGlyphs" class="ax">18:15:30</text><text x="1511.82" y="519.50" text-anchor="middle" textLength="33.86" lengthAdjust="spacingAndGlyphs" class="ax">18:16:00</text><text x="1567.75" y="519.50" text-anchor="middle" textLength="33.86" lengthAdjust="spacingAndGlyphs" class="ax">18:16:30</text><text x="1623.68" y="519.50" text-anchor="middle" textLength="33.86" lengthAdjust="spacingAndGlyphs" class="ax">18:17:00</text><text x="1679.61" y="519.50" text-anchor="middle" textLength="33.86" lengthAdjust="spacingAndGlyphs" class="ax">18:17:30</text><text x="1735.54" y="519.50" text-anchor="middle" textLength="33.86" lengthAdjust="spacingAndGlyphs" class="ax">18:18:00</text><text x="1791.47" y="519.50" text-anchor="middle" textLength="33.86" lengthAdjust="spacingAndGlyphs" class="ax">18:18:30</text><rect x="21" y="583" width="559" height="1" fill="#c8c8c8" fill-opacity="0.15"/><rect x="21" y="622" width="559" height="1" fill="#c8c8c8" fill-opacity="0.15"/><rect x="21" y="661" width="559" height="1" fill="#c8c8c8" fill-opacity="0.15"/><rect x="21" y="700" width="559" height="1" fill="#c8c8c8" fill-opacity="0.15"/><rect x="21" y="740" width="559" height="1" fill="#c8c8c8" fill-opacity="0.15"/><rect x="21" y="779" width="559" height="1" fill="#c8c8c8" fill-opacity="0.15"/><rect x="40.10" y="583" width="1" height="196" fill="#c8c8c8" fill-opacity="0.15"/><rect x="96.00" y="583" width="1" height="196" fill="#c8c8c8" fill-opacity="0.15"/><rect x="151.90" y="583" width="1" height="196" fill="#c8c8c8" fill-opacity="0.15"/><rect x="207.80" y="583" width="1" height="196" fill="#c8c8c8" fill-opacity="0.15"/><rect x="263.70" y="583" width="1" height="196" fill="#c8c8c8" fill-opacity="0.15"/><rect x="319.60" y="583" width="1" height="196" fill="#c8c8c8" fill-opacity="0.15"/><rect x="375.50" y="583" width="1" height="196" fill="#c8c8c8" fill-opacity="0.15"/><rect x="431.40" y="583" width="1" height="196" fill="#c8c8c8" fill-opacity="0.15"/><rect x="487.30" y="583" width="1" height="196" fill="#c8c8c8" fill-opacity="0.15"/><rect x="543.20" y="583" width="1" height="196" fill="#c8c8c8" fill-opacity="0.15"/><path d="M21.80,624.00 L29.40,624.00 L33.00,630.70 L85.50,630.70 L89.10,628.80 L104.20,628.80 L107.80,632.00 L122.30,632.00 L125.90,625.80 L160.20,625.80 L163.80,624.20 L178.40,624.20 L182.00,619.40 L197.60,619.40 L201.20,618.10 L217.00,618.10 L220.60,616.00 L234.20,616.00 L237.80,622.60 L253.40,622.60 L257.00,620.80 L271.50,620.80 L275.10,625.80 L310.00,625.80 L313.60,627.50 L327.10,627.50 L330.70,620.80 L346.80,620.80 L350.40,622.60 L365.50,622.60 L369.10,624.00 L402.30,624.00 L405.90,627.50 L420.40,627.50 L424.00,630.70 L439.70,630.70 L443.30,639.80 L458.30,639.80 L461.90,649.20 L476.50,649.20 L480.10,657.10 L495.20,657.10 L498.80,660.60 L515.50,660.60 L519.10,658.50 L532.60,658.50 L536.20,649.20 L550.70,649.20 L554.30,636.80 L569.90,636.80 L573.50,633.70 L579.50,633.70 L579.50,779.50 L21.80,779.50 Z" fill="#7EB26D" fill-opacity="0.1"/><path d="M21.80,624.00 L29.40,624.00 L33.00,630.70 L85.50,630.70 L89.10,628.80 L104.20,628.80 L107.80,632.00 L122.30,632.00 L125.90,625.80 L160.20,625.80 L163.80,624.20 L178.40,624.20 L182.00,619.40 L197.60,619.40 L201.20,618.10 L217.00,618.10 L220.60,616.00 L234.20,616.00 L237.80,622.60 L253.40,622.60 L257.00,620.80 L271.50,620.80 L275.10,625.80 L310.00,625.80 L313.60,627.50 L327.10,627.50 L330.70,620.80 L346.80,620.80 L350.40,622.60 L365.50,622.60 L369.10,624.00 L402.30,624.00 L405.90,627.50 L420.40,627.50 L424.00,630.70 L439.70,630.70 L443.30,639.80 L458.30,639.80 L461.90,649.20 L476.50,649.20 L480.10,657.10 L495.20,657.10 L498.80,660.60 L515.50,660.60 L519.10,658.50 L532.60,658.50 L536.20,649.20 L550.70,649.20 L554.30,636.80 L569.90,636.80 L573.50,633.70 L579.50,633.70" fill="none" stroke="#7EB26D" stroke-width="1.3" stroke-opacity="0.72" stroke-linejoin="round"/><text x="13.90" y="586.20" text-anchor="end" textLength="12.09" lengthAdjust="spacingAndGlyphs" class="ax">2.5</text><text x="13.90" y="625.20" text-anchor="end" textLength="12.09" lengthAdjust="spacingAndGlyphs" class="ax">2.0</text><text x="13.90" y="664.20" text-anchor="end" textLength="12.09" lengthAdjust="spacingAndGlyphs" class="ax">1.5</text><text x="13.90" y="703.20" text-anchor="end" textLength="12.09" lengthAdjust="spacingAndGlyphs" class="ax">1.0</text><text x="13.90" y="743.20" text-anchor="end" textLength="12.09" lengthAdjust="spacingAndGlyphs" class="ax">0.5</text><text x="13.90" y="782.20" text-anchor="end" textLength="4.84" lengthAdjust="spacingAndGlyphs" class="ax">0</text><text x="39.20" y="794.00" text-anchor="middle" textLength="33.86" lengthAdjust="spacingAndGlyphs" class="ax">18:14:00</text><text x="95.10" y="794.00" text-anchor="middle" textLength="33.86" lengthAdjust="spacingAndGlyphs" class="ax">18:14:30</text><text x="151.00" y="794.00" text-anchor="middle" textLength="33.86" lengthAdjust="spacingAndGlyphs" class="ax">18:15:00</text><text x="206.90" y="794.00" text-anchor="middle" textLength="33.86" lengthAdjust="spacingAndGlyphs" class="ax">18:15:30</text><text x="262.80" y="794.00" text-anchor="middle" textLength="33.86" lengthAdjust="spacingAndGlyphs" class="ax">18:16:00</text><text x="318.70" y="794.00" text-anchor="middle" textLength="33.86" lengthAdjust="spacingAndGlyphs" class="ax">18:16:30</text><text x="374.60" y="794.00" text-anchor="middle" textLength="33.86" lengthAdjust="spacingAndGlyphs" class="ax">18:17:00</text><text x="430.50" y="794.00" text-anchor="middle" textLength="33.86" lengthAdjust="spacingAndGlyphs" class="ax">18:17:30</text><text x="486.40" y="794.00" text-anchor="middle" textLength="33.86" lengthAdjust="spacingAndGlyphs" class="ax">18:18:00</text><text x="542.30" y="794.00" text-anchor="middle" textLength="33.86" lengthAdjust="spacingAndGlyphs" class="ax">18:18:30</text><rect x="646" y="583" width="558" height="1" fill="#c8c8c8" fill-opacity="0.15"/><rect x="646" y="609" width="558" height="1" fill="#c8c8c8" fill-opacity="0.15"/><rect x="646" y="635" width="558" height="1" fill="#c8c8c8" fill-opacity="0.15"/><rect x="646" y="661" width="558" height="1" fill="#c8c8c8" fill-opacity="0.15"/><rect x="646" y="687" width="558" height="1" fill="#c8c8c8" fill-opacity="0.15"/><rect x="646" y="712" width="558" height="1" fill="#c8c8c8" fill-opacity="0.15"/><rect x="646" y="738" width="558" height="1" fill="#c8c8c8" fill-opacity="0.15"/><rect x="646" y="764" width="558" height="1" fill="#c8c8c8" fill-opacity="0.15"/><rect x="665.10" y="583" width="1" height="181" fill="#c8c8c8" fill-opacity="0.15"/><rect x="720.97" y="583" width="1" height="181" fill="#c8c8c8" fill-opacity="0.15"/><rect x="776.84" y="583" width="1" height="181" fill="#c8c8c8" fill-opacity="0.15"/><rect x="832.71" y="583" width="1" height="181" fill="#c8c8c8" fill-opacity="0.15"/><rect x="888.58" y="583" width="1" height="181" fill="#c8c8c8" fill-opacity="0.15"/><rect x="944.45" y="583" width="1" height="181" fill="#c8c8c8" fill-opacity="0.15"/><rect x="1000.32" y="583" width="1" height="181" fill="#c8c8c8" fill-opacity="0.15"/><rect x="1056.19" y="583" width="1" height="181" fill="#c8c8c8" fill-opacity="0.15"/><rect x="1112.06" y="583" width="1" height="181" fill="#c8c8c8" fill-opacity="0.15"/><rect x="1167.93" y="583" width="1" height="181" fill="#c8c8c8" fill-opacity="0.15"/><path d="M646.80,638.70 L653.90,638.70 L657.50,641.80 L672.50,641.80 L676.10,650.00 L691.10,650.00 L694.70,655.80 L710.40,655.80 L714.00,670.20 L729.00,670.20 L732.60,670.90 L747.60,670.90 L751.20,661.30 L784.80,661.30 L788.40,668.10 L803.30,668.10 L806.90,652.70 L821.90,652.70 L825.50,648.50 L841.30,648.50 L844.90,647.70 L859.00,647.70 L862.60,637.60 L877.60,637.60 L881.20,620.60 L896.20,620.60 L899.80,613.30 L914.80,613.30 L918.40,624.50 L933.90,624.50 L937.50,620.30 L952.50,620.30 L956.10,623.40 L971.10,623.40 L974.70,624.50 L988.90,624.50 L992.50,633.80 L1008.20,633.80 L1011.80,615.20 L1026.10,615.20 L1029.70,622.60 L1044.60,622.60 L1048.20,611.60 L1064.00,611.60 L1067.60,612.90 L1081.80,612.90 L1085.40,595.80 L1101.10,595.80 L1104.70,611.60 L1119.70,611.60 L1123.30,617.80 L1138.30,617.80 L1141.90,612.90 L1156.90,612.90 L1160.50,633.80 L1175.50,633.80 L1179.10,639.50 L1193.30,639.50 L1196.90,633.50 L1203.30,633.50 L1203.30,764.50 L646.80,764.50 Z" fill="#7EB26D" fill-opacity="0.1"/><path d="M646.80,638.70 L653.90,638.70 L657.50,641.80 L672.50,641.80 L676.10,650.00 L691.10,650.00 L694.70,655.80 L710.40,655.80 L714.00,670.20 L729.00,670.20 L732.60,670.90 L747.60,670.90 L751.20,661.30 L784.80,661.30 L788.40,668.10 L803.30,668.10 L806.90,652.70 L821.90,652.70 L825.50,648.50 L841.30,648.50 L844.90,647.70 L859.00,647.70 L862.60,637.60 L877.60,637.60 L881.20,620.60 L896.20,620.60 L899.80,613.30 L914.80,613.30 L918.40,624.50 L933.90,624.50 L937.50,620.30 L952.50,620.30 L956.10,623.40 L971.10,623.40 L974.70,624.50 L988.90,624.50 L992.50,633.80 L1008.20,633.80 L1011.80,615.20 L1026.10,615.20 L1029.70,622.60 L1044.60,622.60 L1048.20,611.60 L1064.00,611.60 L1067.60,612.90 L1081.80,612.90 L1085.40,595.80 L1101.10,595.80 L1104.70,611.60 L1119.70,611.60 L1123.30,617.80 L1138.30,617.80 L1141.90,612.90 L1156.90,612.90 L1160.50,633.80 L1175.50,633.80 L1179.10,639.50 L1193.30,639.50 L1196.90,633.50 L1203.30,633.50" fill="none" stroke="#7EB26D" stroke-width="1.3" stroke-opacity="0.72" stroke-linejoin="round"/><text x="639.00" y="586.20" text-anchor="end" textLength="12.09" lengthAdjust="spacingAndGlyphs" class="ax">0.7</text><text x="639.00" y="612.20" text-anchor="end" textLength="12.09" lengthAdjust="spacingAndGlyphs" class="ax">0.6</text><text x="639.00" y="638.20" text-anchor="end" textLength="12.09" lengthAdjust="spacingAndGlyphs" class="ax">0.5</text><text x="639.00" y="664.20" text-anchor="end" textLength="12.09" lengthAdjust="spacingAndGlyphs" class="ax">0.4</text><text x="639.00" y="690.20" text-anchor="end" textLength="12.09" lengthAdjust="spacingAndGlyphs" class="ax">0.3</text><text x="639.00" y="715.20" text-anchor="end" textLength="12.09" lengthAdjust="spacingAndGlyphs" class="ax">0.2</text><text x="639.00" y="741.20" text-anchor="end" textLength="12.09" lengthAdjust="spacingAndGlyphs" class="ax">0.1</text><text x="639.00" y="767.20" text-anchor="end" textLength="4.84" lengthAdjust="spacingAndGlyphs" class="ax">0</text><text x="663.20" y="779.00" text-anchor="middle" textLength="33.86" lengthAdjust="spacingAndGlyphs" class="ax">18:14:00</text><text x="719.07" y="779.00" text-anchor="middle" textLength="33.86" lengthAdjust="spacingAndGlyphs" class="ax">18:14:30</text><text x="774.94" y="779.00" text-anchor="middle" textLength="33.86" lengthAdjust="spacingAndGlyphs" class="ax">18:15:00</text><text x="830.81" y="779.00" text-anchor="middle" textLength="33.86" lengthAdjust="spacingAndGlyphs" class="ax">18:15:30</text><text x="886.68" y="779.00" text-anchor="middle" textLength="33.86" lengthAdjust="spacingAndGlyphs" class="ax">18:16:00</text><text x="942.55" y="779.00" text-anchor="middle" textLength="33.86" lengthAdjust="spacingAndGlyphs" class="ax">18:16:30</text><text x="998.42" y="779.00" text-anchor="middle" textLength="33.86" lengthAdjust="spacingAndGlyphs" class="ax">18:17:00</text><text x="1054.29" y="779.00" text-anchor="middle" textLength="33.86" lengthAdjust="spacingAndGlyphs" class="ax">18:17:30</text><text x="1110.16" y="779.00" text-anchor="middle" textLength="33.86" lengthAdjust="spacingAndGlyphs" class="ax">18:18:00</text><text x="1166.03" y="779.00" text-anchor="middle" textLength="33.86" lengthAdjust="spacingAndGlyphs" class="ax">18:18:30</text><rect x="1271" y="583" width="558" height="1" fill="#c8c8c8" fill-opacity="0.15"/><rect x="1271" y="602" width="558" height="1" fill="#c8c8c8" fill-opacity="0.15"/><rect x="1271" y="621" width="558" height="1" fill="#c8c8c8" fill-opacity="0.15"/><rect x="1271" y="640" width="558" height="1" fill="#c8c8c8" fill-opacity="0.15"/><rect x="1271" y="659" width="558" height="1" fill="#c8c8c8" fill-opacity="0.15"/><rect x="1271" y="678" width="558" height="1" fill="#c8c8c8" fill-opacity="0.15"/><rect x="1271" y="697" width="558" height="1" fill="#c8c8c8" fill-opacity="0.15"/><rect x="1289.00" y="583" width="1" height="114" fill="#c8c8c8" fill-opacity="0.15"/><rect x="1344.93" y="583" width="1" height="114" fill="#c8c8c8" fill-opacity="0.15"/><rect x="1400.86" y="583" width="1" height="114" fill="#c8c8c8" fill-opacity="0.15"/><rect x="1456.79" y="583" width="1" height="114" fill="#c8c8c8" fill-opacity="0.15"/><rect x="1512.72" y="583" width="1" height="114" fill="#c8c8c8" fill-opacity="0.15"/><rect x="1568.65" y="583" width="1" height="114" fill="#c8c8c8" fill-opacity="0.15"/><rect x="1624.58" y="583" width="1" height="114" fill="#c8c8c8" fill-opacity="0.15"/><rect x="1680.51" y="583" width="1" height="114" fill="#c8c8c8" fill-opacity="0.15"/><rect x="1736.44" y="583" width="1" height="114" fill="#c8c8c8" fill-opacity="0.15"/><rect x="1792.37" y="583" width="1" height="114" fill="#c8c8c8" fill-opacity="0.15"/><path d="M1271.80,659.30 L1280.20,659.30 L1283.80,659.10 L1299.50,659.10 L1303.10,660.00 L1315.70,660.00 L1319.30,660.80 L1335.00,660.80 L1338.60,659.80 L1371.50,659.80 L1375.10,660.80 L1391.30,660.80 L1394.90,661.30 L1409.00,661.30 L1412.60,659.80 L1429.30,659.80 L1432.90,660.80 L1447.60,660.80 L1451.20,661.30 L1465.80,661.30 L1469.40,660.10 L1484.50,660.10 L1488.10,661.10 L1501.60,661.10 L1505.20,660.10 L1521.30,660.10 L1524.90,661.70 L1614.80,661.70 L1618.40,659.50 L1651.00,659.50 L1654.60,660.10 L1671.30,660.10 L1674.90,658.50 L1688.40,658.50 L1692.00,660.80 L1707.10,660.80 L1710.70,659.00 L1726.30,659.00 L1729.90,660.10 L1745.00,660.10 L1748.60,656.10 L1762.60,656.10 L1766.20,659.00 L1782.40,659.00 L1786.00,656.10 L1800.50,656.10 L1804.10,660.10 L1818.70,660.10 L1822.30,659.50 L1829.00,659.50 L1829.00,697.50 L1271.80,697.50 Z" fill="#7EB26D" fill-opacity="0.1"/><path d="M1271.80,659.30 L1280.20,659.30 L1283.80,659.10 L1299.50,659.10 L1303.10,660.00 L1315.70,660.00 L1319.30,660.80 L1335.00,660.80 L1338.60,659.80 L1371.50,659.80 L1375.10,660.80 L1391.30,660.80 L1394.90,661.30 L1409.00,661.30 L1412.60,659.80 L1429.30,659.80 L1432.90,660.80 L1447.60,660.80 L1451.20,661.30 L1465.80,661.30 L1469.40,660.10 L1484.50,660.10 L1488.10,661.10 L1501.60,661.10 L1505.20,660.10 L1521.30,660.10 L1524.90,661.70 L1614.80,661.70 L1618.40,659.50 L1651.00,659.50 L1654.60,660.10 L1671.30,660.10 L1674.90,658.50 L1688.40,658.50 L1692.00,660.80 L1707.10,660.80 L1710.70,659.00 L1726.30,659.00 L1729.90,660.10 L1745.00,660.10 L1748.60,656.10 L1762.60,656.10 L1766.20,659.00 L1782.40,659.00 L1786.00,656.10 L1800.50,656.10 L1804.10,660.10 L1818.70,660.10 L1822.30,659.50 L1829.00,659.50" fill="none" stroke="#7EB26D" stroke-width="1.3" stroke-opacity="0.72" stroke-linejoin="round"/><path d="M1271.80,655.70 L1280.20,655.70 L1283.80,656.50 L1299.50,656.50 L1303.10,657.30 L1315.70,657.30 L1319.30,658.80 L1335.00,658.80 L1338.60,654.20 L1353.30,654.20 L1356.90,655.20 L1371.50,655.20 L1375.10,658.60 L1391.30,658.60 L1394.90,659.60 L1409.00,659.60 L1412.60,655.20 L1429.30,655.20 L1432.90,657.30 L1447.60,657.30 L1451.20,658.50 L1465.80,658.50 L1469.40,657.20 L1484.50,657.20 L1488.10,659.00 L1501.60,659.00 L1505.20,656.90 L1521.30,656.90 L1524.90,659.00 L1595.60,659.00 L1599.20,657.20 L1671.30,657.20 L1674.90,655.50 L1688.40,655.50 L1692.00,657.90 L1707.10,657.90 L1710.70,655.80 L1745.00,655.80 L1748.60,653.10 L1800.50,653.10 L1804.10,652.10 L1818.70,652.10 L1822.30,656.10 L1829.00,656.10 L1829.00,697.50 L1271.80,697.50 Z" fill="#EAB839" fill-opacity="0.1"/><path d="M1271.80,655.70 L1280.20,655.70 L1283.80,656.50 L1299.50,656.50 L1303.10,657.30 L1315.70,657.30 L1319.30,658.80 L1335.00,658.80 L1338.60,654.20 L1353.30,654.20 L1356.90,655.20 L1371.50,655.20 L1375.10,658.60 L1391.30,658.60 L1394.90,659.60 L1409.00,659.60 L1412.60,655.20 L1429.30,655.20 L1432.90,657.30 L1447.60,657.30 L1451.20,658.50 L1465.80,658.50 L1469.40,657.20 L1484.50,657.20 L1488.10,659.00 L1501.60,659.00 L1505.20,656.90 L1521.30,656.90 L1524.90,659.00 L1595.60,659.00 L1599.20,657.20 L1671.30,657.20 L1674.90,655.50 L1688.40,655.50 L1692.00,657.90 L1707.10,657.90 L1710.70,655.80 L1745.00,655.80 L1748.60,653.10 L1800.50,653.10 L1804.10,652.10 L1818.70,652.10 L1822.30,656.10 L1829.00,656.10" fill="none" stroke="#EAB839" stroke-width="1.3" stroke-opacity="0.72" stroke-linejoin="round"/><path d="M1271.80,652.90 L1280.20,652.90 L1283.80,654.50 L1299.50,654.50 L1303.10,655.20 L1315.70,655.20 L1319.30,653.50 L1335.00,653.50 L1338.60,648.40 L1353.30,648.40 L1356.90,652.20 L1371.50,652.20 L1375.10,656.20 L1391.30,656.20 L1394.90,658.30 L1409.00,658.30 L1412.60,652.50 L1429.30,652.50 L1432.90,654.20 L1447.60,654.20 L1451.20,655.30 L1465.80,655.30 L1469.40,654.20 L1484.50,654.20 L1488.10,653.10 L1501.60,653.10 L1505.20,654.20 L1539.00,654.20 L1542.60,657.20 L1559.30,657.20 L1562.90,654.00 L1576.90,654.00 L1580.50,655.60 L1595.60,655.60 L1599.20,655.30 L1651.00,655.30 L1654.60,653.70 L1671.30,653.70 L1674.90,651.20 L1688.40,651.20 L1692.00,654.70 L1707.10,654.70 L1710.70,651.50 L1745.00,651.50 L1748.60,649.10 L1762.60,649.10 L1766.20,647.30 L1782.40,647.30 L1786.00,650.20 L1800.50,650.20 L1804.10,648.00 L1818.70,648.00 L1822.30,646.90 L1829.00,646.90 L1829.00,697.50 L1271.80,697.50 Z" fill="#6ED0E0" fill-opacity="0.1"/><path d="M1271.80,652.90 L1280.20,652.90 L1283.80,654.50 L1299.50,654.50 L1303.10,655.20 L1315.70,655.20 L1319.30,653.50 L1335.00,653.50 L1338.60,648.40 L1353.30,648.40 L1356.90,652.20 L1371.50,652.20 L1375.10,656.20 L1391.30,656.20 L1394.90,658.30 L1409.00,658.30 L1412.60,652.50 L1429.30,652.50 L1432.90,654.20 L1447.60,654.20 L1451.20,655.30 L1465.80,655.30 L1469.40,654.20 L1484.50,654.20 L1488.10,653.10 L1501.60,653.10 L1505.20,654.20 L1539.00,654.20 L1542.60,657.20 L1559.30,657.20 L1562.90,654.00 L1576.90,654.00 L1580.50,655.60 L1595.60,655.60 L1599.20,655.30 L1651.00,655.30 L1654.60,653.70 L1671.30,653.70 L1674.90,651.20 L1688.40,651.20 L1692.00,654.70 L1707.10,654.70 L1710.70,651.50 L1745.00,651.50 L1748.60,649.10 L1762.60,649.10 L1766.20,647.30 L1782.40,647.30 L1786.00,650.20 L1800.50,650.20 L1804.10,648.00 L1818.70,648.00 L1822.30,646.90 L1829.00,646.90" fill="none" stroke="#6ED0E0" stroke-width="1.3" stroke-opacity="0.72" stroke-linejoin="round"/><path d="M1271.80,651.20 L1280.20,651.20 L1283.80,653.70 L1315.70,653.70 L1319.30,628.10 L1335.00,628.10 L1338.60,646.60 L1353.30,646.60 L1356.90,650.70 L1371.50,650.70 L1375.10,654.70 L1391.30,654.70 L1394.90,656.20 L1409.00,656.20 L1412.60,650.70 L1429.30,650.70 L1432.90,652.20 L1447.60,652.20 L1451.20,654.00 L1465.80,654.00 L1469.40,652.10 L1501.60,652.10 L1505.20,650.20 L1539.00,650.20 L1542.60,654.70 L1559.30,654.70 L1562.90,652.10 L1576.90,652.10 L1580.50,654.20 L1595.60,654.20 L1599.20,654.70 L1614.80,654.70 L1618.40,652.90 L1632.90,652.90 L1636.50,654.70 L1651.00,654.70 L1654.60,649.40 L1688.40,649.40 L1692.00,652.90 L1707.10,652.90 L1710.70,606.20 L1726.30,606.20 L1729.90,648.70 L1745.00,648.70 L1748.60,647.60 L1762.60,647.60 L1766.20,644.60 L1782.40,644.60 L1786.00,645.90 L1818.70,645.90 L1822.30,642.20 L1829.00,642.20 L1829.00,697.50 L1271.80,697.50 Z" fill="#EF843C" fill-opacity="0.1"/><path d="M1271.80,651.20 L1280.20,651.20 L1283.80,653.70 L1315.70,653.70 L1319.30,628.10 L1335.00,628.10 L1338.60,646.60 L1353.30,646.60 L1356.90,650.70 L1371.50,650.70 L1375.10,654.70 L1391.30,654.70 L1394.90,656.20 L1409.00,656.20 L1412.60,650.70 L1429.30,650.70 L1432.90,652.20 L1447.60,652.20 L1451.20,654.00 L1465.80,654.00 L1469.40,652.10 L1501.60,652.10 L1505.20,650.20 L1539.00,650.20 L1542.60,654.70 L1559.30,654.70 L1562.90,652.10 L1576.90,652.10 L1580.50,654.20 L1595.60,654.20 L1599.20,654.70 L1614.80,654.70 L1618.40,652.90 L1632.90,652.90 L1636.50,654.70 L1651.00,654.70 L1654.60,649.40 L1688.40,649.40 L1692.00,652.90 L1707.10,652.90 L1710.70,606.20 L1726.30,606.20 L1729.90,648.70 L1745.00,648.70 L1748.60,647.60 L1762.60,647.60 L1766.20,644.60 L1782.40,644.60 L1786.00,645.90 L1818.70,645.90 L1822.30,642.20 L1829.00,642.20" fill="none" stroke="#EF843C" stroke-width="1.3" stroke-opacity="0.72" stroke-linejoin="round"/><path d="M1271.80,650.50 L1280.20,650.50 L1283.80,651.00 L1315.70,651.00 L1319.30,615.20 L1335.00,615.20 L1338.60,645.90 L1353.30,645.90 L1356.90,650.20 L1371.50,650.20 L1375.10,654.00 L1409.00,654.00 L1412.60,650.20 L1429.30,650.20 L1432.90,651.00 L1465.80,651.00 L1469.40,650.20 L1501.60,650.20 L1505.20,598.10 L1521.30,598.10 L1524.90,646.50 L1539.00,646.50 L1542.60,654.50 L1559.30,654.50 L1562.90,650.20 L1576.90,650.20 L1580.50,646.50 L1595.60,646.50 L1599.20,654.50 L1614.80,654.50 L1618.40,650.20 L1632.90,650.20 L1636.50,654.20 L1651.00,654.20 L1654.60,646.50 L1688.40,646.50 L1692.00,650.20 L1707.10,650.20 L1710.70,597.40 L1726.30,597.40 L1729.90,646.20 L1762.60,646.20 L1766.20,631.80 L1820.30,631.80 L1823.90,631.20 L1829.00,631.20 L1829.00,697.50 L1271.80,697.50 Z" fill="#E24D42" fill-opacity="0.1"/><path d="M1271.80,650.50 L1280.20,650.50 L1283.80,651.00 L1315.70,651.00 L1319.30,615.20 L1335.00,615.20 L1338.60,645.90 L1353.30,645.90 L1356.90,650.20 L1371.50,650.20 L1375.10,654.00 L1409.00,654.00 L1412.60,650.20 L1429.30,650.20 L1432.90,651.00 L1465.80,651.00 L1469.40,650.20 L1501.60,650.20 L1505.20,598.10 L1521.30,598.10 L1524.90,646.50 L1539.00,646.50 L1542.60,654.50 L1559.30,654.50 L1562.90,650.20 L1576.90,650.20 L1580.50,646.50 L1595.60,646.50 L1599.20,654.50 L1614.80,654.50 L1618.40,650.20 L1632.90,650.20 L1636.50,654.20 L1651.00,654.20 L1654.60,646.50 L1688.40,646.50 L1692.00,650.20 L1707.10,650.20 L1710.70,597.40 L1726.30,597.40 L1729.90,646.20 L1762.60,646.20 L1766.20,631.80 L1820.30,631.80 L1823.90,631.20 L1829.00,631.20" fill="none" stroke="#E24D42" stroke-width="1.3" stroke-opacity="0.72" stroke-linejoin="round"/><text x="1262.80" y="586.20" text-anchor="end" textLength="12.09" lengthAdjust="spacingAndGlyphs" class="ax">0.6</text><text x="1262.80" y="605.20" text-anchor="end" textLength="12.09" lengthAdjust="spacingAndGlyphs" class="ax">0.5</text><text x="1262.80" y="624.20" text-anchor="end" textLength="12.09" lengthAdjust="spacingAndGlyphs" class="ax">0.4</text><text x="1262.80" y="643.20" text-anchor="end" textLength="12.09" lengthAdjust="spacingAndGlyphs" class="ax">0.3</text><text x="1262.80" y="662.20" text-anchor="end" textLength="12.09" lengthAdjust="spacingAndGlyphs" class="ax">0.2</text><text x="1262.80" y="681.20" text-anchor="end" textLength="12.09" lengthAdjust="spacingAndGlyphs" class="ax">0.1</text><text x="1262.80" y="700.20" text-anchor="end" textLength="4.84" lengthAdjust="spacingAndGlyphs" class="ax">0</text><text x="1288.10" y="712.30" text-anchor="middle" textLength="33.86" lengthAdjust="spacingAndGlyphs" class="ax">18:14:00</text><text x="1344.03" y="712.30" text-anchor="middle" textLength="33.86" lengthAdjust="spacingAndGlyphs" class="ax">18:14:30</text><text x="1399.96" y="712.30" text-anchor="middle" textLength="33.86" lengthAdjust="spacingAndGlyphs" class="ax">18:15:00</text><text x="1455.89" y="712.30" text-anchor="middle" textLength="33.86" lengthAdjust="spacingAndGlyphs" class="ax">18:15:30</text><text x="1511.82" y="712.30" text-anchor="middle" textLength="33.86" lengthAdjust="spacingAndGlyphs" class="ax">18:16:00</text><text x="1567.75" y="712.30" text-anchor="middle" textLength="33.86" lengthAdjust="spacingAndGlyphs" class="ax">18:16:30</text><text x="1623.68" y="712.30" text-anchor="middle" textLength="33.86" lengthAdjust="spacingAndGlyphs" class="ax">18:17:00</text><text x="1679.61" y="712.30" text-anchor="middle" textLength="33.86" lengthAdjust="spacingAndGlyphs" class="ax">18:17:30</text><text x="1735.54" y="712.30" text-anchor="middle" textLength="33.86" lengthAdjust="spacingAndGlyphs" class="ax">18:18:00</text><text x="1791.47" y="712.30" text-anchor="middle" textLength="33.86" lengthAdjust="spacingAndGlyphs" class="ax">18:18:30</text><rect x="20" y="255" width="10.5" height="3" fill="#7EB26D"/><rect x="654" y="245" width="10.5" height="3" fill="#7EB26D"/><rect x="20" y="531" width="10.5" height="3" fill="#7EB26D"/><rect x="654" y="521" width="10.5" height="3" fill="#7EB26D"/><rect x="20" y="807" width="10.5" height="3" fill="#7EB26D"/><rect x="654" y="797" width="10.5" height="3" fill="#7EB26D"/><rect x="1271" y="178.0" width="10.5" height="3" fill="#7EB26D"/><rect x="1262" y="186.5" width="386" height="17.5" fill="#ffffff" fill-opacity="0.025"/><rect x="1271" y="195.5" width="10.5" height="3" fill="#EAB839"/><rect x="1271" y="213.0" width="10.5" height="3" fill="#6ED0E0"/><rect x="1262" y="221.5" width="386" height="17.5" fill="#ffffff" fill-opacity="0.025"/><rect x="1271" y="230.5" width="10.5" height="3" fill="#EF843C"/><rect x="1271" y="248.0" width="10.5" height="3" fill="#E24D42"/><rect x="1271" y="731.0" width="10.5" height="3" fill="#7EB26D"/><rect x="1262" y="739.5" width="382" height="17.5" fill="#ffffff" fill-opacity="0.025"/><rect x="1271" y="748.5" width="10.5" height="3" fill="#EAB839"/><rect x="1271" y="766.0" width="10.5" height="3" fill="#6ED0E0"/><rect x="1262" y="774.5" width="382" height="17.5" fill="#ffffff" fill-opacity="0.025"/><rect x="1271" y="783.5" width="10.5" height="3" fill="#EF843C"/><rect x="1271" y="801.0" width="10.5" height="3" fill="#E24D42"/>
</svg>
<div class="nd">No data points</div>
<div class="tip"><div class="tm">2018-04-17 18:18:45</div><div class="sw"></div><div class="sn">kubeflow-seldon/mnist-classifier:v1/mnist-classifier:v1 eg-router seldonio/mab_epsilon_greedy : 1.1:</div><div class="vl">0.81</div></div>
<div class="addrow"><span style="position:absolute;left:8.8px;top:9.2px;width:8.4px;height:2.2px;background:#e8e8e8"></span><span style="position:absolute;left:11.9px;top:6.1px;width:2.2px;height:8.2px;background:#e8e8e8"></span><span style="position:absolute;left:20px;top:1.2px;transform:scaleX(0.917);transform-origin:0 0;white-space:nowrap">ADD ROW</span></div>
<div class="sb"></div><div class="th"></div>
</body></html>
